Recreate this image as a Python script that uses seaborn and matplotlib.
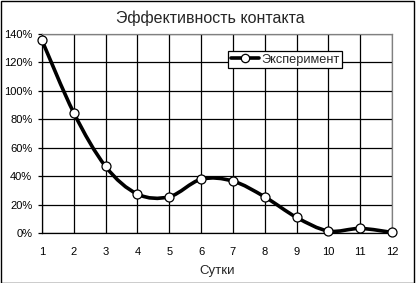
import numpy as np
import pandas as pd
import matplotlib
matplotlib.use("Agg")
import matplotlib.pyplot as plt
from matplotlib.path import Path
from matplotlib.patches import PathPatch, Rectangle
from matplotlib.lines import Line2D
from matplotlib.ticker import PercentFormatter
import seaborn as sns

days = [1, 2, 3, 4, 5, 6, 7, 8, 9, 10, 11, 12]
efficiency = [135.5, 84.5, 46.8, 27.4, 25.5, 37.8, 36.5, 25.4, 11.0, 1.4, 3.2, 0.4]
series_name = "Эксперимент"
title = "Эффективность контакта"
xlabel = "Сутки"

sns.set_theme(style="white")
plt.rcParams['font.family'] = ['Liberation Sans', 'DejaVu Sans']

df = pd.DataFrame({"day": days, "eff": efficiency})

fig = plt.figure(figsize=(4.17, 2.83), dpi=100)
ax = fig.add_axes([42/417, 1 - 233/283, 350/417, 199/283])

# smoothed line (Excel-style Bezier through the data points)
x = np.array(days, dtype=float)
y = np.array(efficiency, dtype=float)
verts = [(x[0], y[0])]
codes = [Path.MOVETO]
n = len(x)
for i in range(n - 1):
    p0 = np.array([x[max(i - 1, 0)], y[max(i - 1, 0)]])
    p1 = np.array([x[i], y[i]])
    p2 = np.array([x[i + 1], y[i + 1]])
    p3 = np.array([x[min(i + 2, n - 1)], y[min(i + 2, n - 1)]])
    c1 = p1 + (p2 - p0) / 6.0
    c2 = p2 - (p3 - p1) / 6.0
    verts += [tuple(c1), tuple(c2), tuple(p2)]
    codes += [Path.CURVE4] * 3
ax.add_patch(PathPatch(Path(verts, codes), facecolor="none", edgecolor="black",
                       lw=2.6, zorder=3, capstyle="round", joinstyle="round"))

sns.scatterplot(data=df, x="day", y="eff", ax=ax, marker="o", s=42,
                facecolor="white", edgecolor="black", linewidth=0.9, zorder=4,
                legend=False, clip_on=False)

ax.set_xlim(1, 12)
ax.set_ylim(0, 140)
ax.set_xticks(days)
ax.set_yticks(np.arange(0, 141, 20))
ax.yaxis.set_major_formatter(PercentFormatter(decimals=0))
ax.grid(True, color="black", lw=0.9)
ax.set_axisbelow(True)
for s in ["top", "right"]:
    ax.spines[s].set_color("#808080")
    ax.spines[s].set_linewidth(0.9)
for s in ["left", "bottom"]:
    ax.spines[s].set_color("black")
    ax.spines[s].set_linewidth(0.9)
ax.tick_params(axis="both", labelsize=8, colors="black", length=3, width=0.9,
               direction="out", left=True, bottom=False)
ax.tick_params(axis="y", pad=4)
ax.tick_params(axis="x", pad=7)
ax.set_xlabel(xlabel, fontsize=9.5, labelpad=6)
ax.set_ylabel("")
fig.text(210/417, 1 - 18/283, title, ha="center", va="center", fontsize=11.5)

handle = Line2D([0], [0], color="black", lw=2.6, marker="o", markersize=6,
                markerfacecolor="white", markeredgecolor="black", markeredgewidth=0.9)
leg = ax.legend([handle], [series_name], loc="upper left",
                bbox_to_anchor=((228 - 42) / 350, (233 - 51) / 199),
                fontsize=9.2, frameon=True, fancybox=False, handlelength=2.2,
                borderpad=0.2, handletextpad=0.2, borderaxespad=0)
leg.get_frame().set_edgecolor("black")
leg.get_frame().set_linewidth(0.9)
leg.get_frame().set_facecolor("white")
leg.get_frame().set_alpha(1)

fig.patches.append(Rectangle((0.5/417, 0.5/283), 413/417, 281.5/283, transform=fig.transFigure,
                             fill=False, edgecolor="black", lw=1))

fig.savefig("out.png", dpi=100)
